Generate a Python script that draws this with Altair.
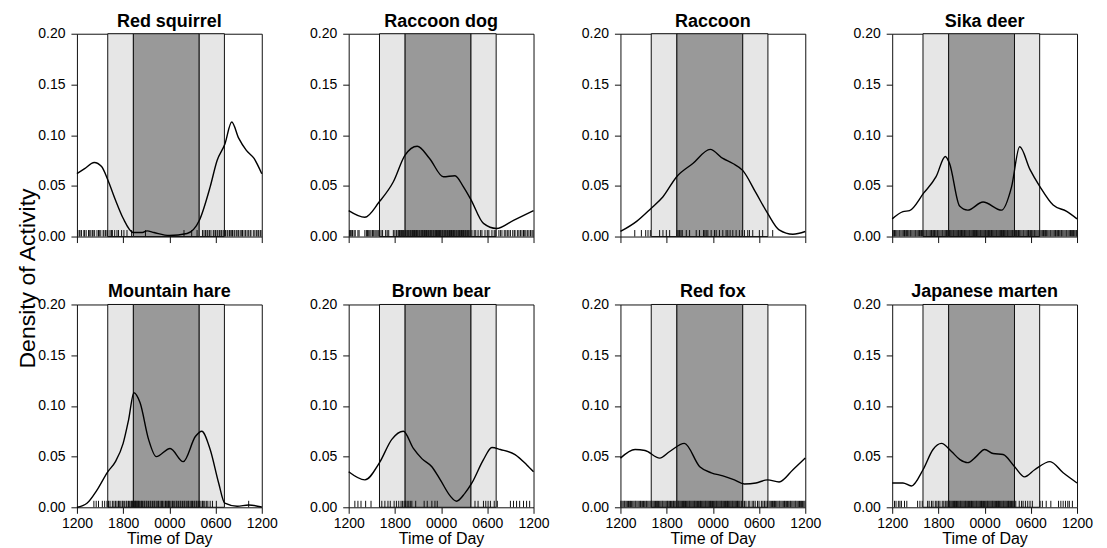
import json
import altair as alt
import pandas as pd

FONT = "Liberation Sans"

# ---------------- data (hours since 12:00 noon) ----------------
species = ["Red squirrel", "Raccoon dog", "Raccoon", "Sika deer",
           "Mountain hare", "Brown bear", "Red fox", "Japanese marten"]

tick_hours = [0, 6, 12, 18, 24]
tick_labels = ["1200", "1800", "0000", "0600", "1200"]
y_ticks = [0.0, 0.05, 0.10, 0.15, 0.20]

# twilight / night bands
shade_start = [4.0, 7.33, 15.88]
shade_end = [7.33, 15.88, 19.15]
shade_fill = ["#e6e6e6", "#999999", "#e6e6e6"]

red_squirrel_h = [0, 1, 2.25, 3.2, 4, 5, 6, 7.3, 8.5, 9.1, 10, 12, 14.3, 15.9, 17.3, 18.2, 19.2, 20.1, 21, 22, 23, 24]
red_squirrel_d = [0.062, 0.067, 0.073, 0.069, 0.056, 0.036, 0.018, 0.004, 0.004, 0.0056, 0.004, 0.001, 0.003, 0.016, 0.049, 0.075, 0.091, 0.113, 0.097, 0.085, 0.077, 0.062]

raccoon_dog_h = [0, 2.1, 3.95, 5.8, 7.3, 8.9, 10.5, 12.3, 13.8, 14.9, 15.9, 17.5, 19.2, 21.4, 24]
raccoon_dog_d = [0.0256, 0.019, 0.034, 0.054, 0.080, 0.089, 0.077, 0.059, 0.060, 0.049, 0.036, 0.013, 0.008, 0.016, 0.0256]

raccoon_h = [0, 2.1, 4, 5.5, 7.3, 9.4, 11.65, 13.3, 14.6, 15.9, 17.6, 19.1, 20.6, 22.4, 24]
raccoon_d = [0.005, 0.015, 0.028, 0.039, 0.059, 0.072, 0.086, 0.077, 0.072, 0.065, 0.043, 0.023, 0.0066, 0.0023, 0.005]

sika_deer_h = [0, 1.4, 2.25, 4.1, 5.7, 6.9, 7.45, 8.75, 9.8, 11.8, 14.2, 15.5, 16.55, 17.9, 19.2, 20.9, 22.6, 24]
sika_deer_d = [0.0174, 0.0246, 0.0256, 0.043, 0.059, 0.079, 0.072, 0.030, 0.026, 0.034, 0.026, 0.049, 0.0885, 0.066, 0.049, 0.031, 0.025, 0.0174]

mountain_hare_h = [0, 1.3, 2.6, 4, 5, 6, 6.7, 7.4, 8.2, 9.3, 10.3, 12.1, 13.8, 15.4, 16.2, 17.3, 18.4, 19.2, 20.8, 22.3, 24]
mountain_hare_d = [0.0, 0.004, 0.017, 0.035, 0.045, 0.063, 0.086, 0.113, 0.103, 0.067, 0.050, 0.058, 0.045, 0.070, 0.075, 0.057, 0.024, 0.004, 0.001, 0.0023, 0.0003]

brown_bear_h = [0, 2.1, 4, 5.6, 7.1, 8.4, 9.5, 10.8, 11.9, 13.2, 14, 15.1, 16, 17.5, 18.6, 19.7, 21.6, 23.1, 24]
brown_bear_d = [0.035, 0.027, 0.044, 0.067, 0.075, 0.058, 0.048, 0.040, 0.027, 0.011, 0.006, 0.014, 0.024, 0.047, 0.059, 0.057, 0.052, 0.042, 0.035]

red_fox_h = [0, 1.9, 3.2, 5.1, 6.4, 8.3, 10.3, 11.8, 13.3, 14.8, 16.1, 17.6, 19.1, 20.6, 22.4, 24]
red_fox_d = [0.0485, 0.057, 0.056, 0.0485, 0.055, 0.063, 0.040, 0.034, 0.031, 0.027, 0.023, 0.024, 0.027, 0.025, 0.037, 0.0485]

japanese_marten_h = [0, 1.4, 2.5, 4, 5.3, 6.4, 7.7, 8.8, 9.8, 10.9, 12, 13.1, 14.4, 15.9, 17.2, 18.5, 20.5, 22.2, 24]
japanese_marten_d = [0.024, 0.024, 0.021, 0.037, 0.057, 0.063, 0.055, 0.047, 0.044, 0.050, 0.057, 0.053, 0.052, 0.040, 0.030, 0.037, 0.045, 0.034, 0.024]

red_squirrel_rug = [0.1, 0.3, 0.4, 0.6, 0.9, 1.0, 1.2, 1.5, 1.6, 1.8, 2.0, 2.1, 2.3, 2.6, 2.8, 2.9, 3.1, 3.4, 3.5, 3.7,
                    3.9, 4.0, 4.3, 4.5, 4.6, 4.9, 5.2, 5.4, 5.8, 6.1, 6.5, 7.1, 8.9, 13.9, 14.9, 15.6, 16.3, 16.5, 16.7,
                    16.9, 17.0, 17.2, 17.4, 17.7, 17.8, 18.0, 18.2, 18.3, 18.5, 18.7, 18.8, 19.0, 19.2, 19.3, 19.5, 19.6,
                    19.8, 19.9, 20.1, 20.2, 20.4, 20.5, 20.7, 20.9, 21.0, 21.2, 21.4, 21.5, 21.7, 21.9, 22.1, 22.3, 22.5,
                    22.6, 22.9, 23.1, 23.3, 23.5, 23.6, 23.8, 23.9]
raccoon_dog_rug = [0.1, 0.25, 0.4, 0.5, 0.7, 0.85, 1.2, 1.35, 2.1, 2.3, 2.45, 2.6, 2.75, 2.9, 3.1, 3.2, 3.4, 3.55, 3.7,
                   3.9, 4.0, 4.2, 4.4, 4.8, 5.0, 5.2, 5.8, 6.0, 6.2, 6.4, 6.5, 6.6, 6.75, 6.85, 7.0, 7.1, 7.2, 7.35,
                   7.45, 7.6, 7.7, 7.8, 7.95, 8.05, 8.2, 8.3, 8.4, 8.55, 8.65, 8.8, 8.9, 9.0, 9.15, 9.25, 9.4, 9.5,
                   9.6, 9.75, 9.85, 10.0, 10.1, 10.2, 10.35, 10.45, 10.6, 10.7, 10.8, 10.95, 11.05, 11.2, 11.3, 11.4,
                   11.55, 11.65, 11.8, 11.9, 12.0, 12.15, 12.25, 12.4, 12.5, 12.6, 12.75, 12.85, 13.0, 13.1, 13.2,
                   13.35, 13.45, 13.6, 13.7, 13.8, 13.95, 14.05, 14.2, 14.3, 14.4, 14.55, 14.65, 14.8, 14.9, 15.0,
                   15.15, 15.25, 15.4, 15.5, 15.6, 15.75, 16.0, 16.3, 16.5, 16.8, 17.1, 17.3, 17.7, 18.0, 18.2, 18.6,
                   18.9, 19.1, 19.5, 19.7, 19.9, 20.2, 20.4, 20.6, 20.8, 21.0, 21.3, 21.5, 21.6, 21.9, 22.1, 22.3,
                   22.5, 22.7, 22.8, 23.0, 23.2, 23.4, 23.6, 23.8, 23.95]
raccoon_rug = [1.86, 2.72, 3.28, 3.58, 3.88, 5.09, 5.52, 5.96, 6.39, 7.34, 7.5, 7.68, 7.86, 8.03, 8.55, 8.98, 9.84,
               10.27, 10.79, 10.96, 11.14, 11.35, 11.78, 12.21, 12.43, 12.86, 13.29, 13.72, 13.94, 14.24, 14.59,
               15.02, 15.45, 15.8, 16.1, 16.53, 16.75, 17.18, 18.04, 18.47, 19.77]
sika_deer_rug = [0.05, 0.2, 0.3, 0.45, 0.6, 0.75, 0.9, 1.0, 1.15, 1.3, 1.45, 1.6, 1.7, 1.85, 2.0, 2.15, 2.3, 2.4, 2.55,
                 2.7, 2.85, 3.0, 3.1, 3.25, 3.4, 3.55, 3.7, 3.8, 3.95, 4.1, 4.25, 4.4, 4.5, 4.65, 4.8, 4.95, 5.1, 5.2,
                 5.35, 5.5, 5.65, 5.8, 5.9, 6.05, 6.2, 6.35, 6.5, 6.6, 6.75, 6.9, 7.05, 7.2, 7.3, 7.45, 7.6, 7.75,
                 7.9, 8.0, 8.15, 8.3, 8.45, 8.6, 8.7, 8.85, 9.0, 9.15, 9.3, 9.4, 9.55, 9.7, 9.85, 10.0, 10.1, 10.25,
                 10.4, 10.55, 10.7, 10.8, 10.95, 11.1, 11.25, 11.4, 11.5, 11.65, 11.8, 11.95, 12.1, 12.2, 12.35,
                 12.5, 12.65, 12.8, 12.9, 13.05, 13.2, 13.35, 13.5, 13.6, 13.75, 13.9, 14.05, 14.2, 14.3, 14.45,
                 14.6, 14.75, 14.9, 15.0, 15.15, 15.3, 15.45, 15.6, 15.7, 15.85, 16.0, 16.15, 16.3, 16.4, 16.55,
                 16.7, 16.85, 17.0, 17.1, 17.25, 17.4, 17.55, 17.7, 17.8, 17.95, 18.1, 18.25, 18.4, 18.5, 18.65,
                 18.8, 18.95, 19.1, 19.2, 19.35, 19.5, 19.65, 19.8, 19.9, 20.05, 20.2, 20.35, 20.5, 20.6, 20.75,
                 20.9, 21.05, 21.2, 21.3, 21.45, 21.6, 21.75, 21.9, 22.0, 22.15, 22.3, 22.45, 22.6, 22.7, 22.85,
                 23.0, 23.15, 23.3, 23.4, 23.55, 23.7, 23.85, 23.95]
mountain_hare_rug = [2.2, 2.5, 2.8, 3.3, 3.6, 3.9, 4.1, 4.3, 4.6, 4.8, 5.0, 5.2, 5.4, 5.5, 5.7, 5.9, 6.0, 6.2, 6.4, 6.5,
                     6.7, 6.8, 7.0, 7.1, 7.2, 7.3, 7.4, 7.5, 7.6, 7.7, 7.8, 7.9, 8.0, 8.1, 8.3, 8.4, 8.5, 8.7, 8.8,
                     9.0, 9.1, 9.3, 9.5, 9.6, 9.8, 10.0, 10.1, 10.3, 10.5, 10.6, 10.8, 11.0, 11.1, 11.3, 11.5, 11.6,
                     11.8, 11.9, 12.0, 12.2, 12.4, 12.5, 12.7, 12.9, 13.0, 13.2, 13.4, 13.5, 13.7, 13.9, 14.0, 14.2,
                     14.4, 14.5, 14.7, 14.9, 15.0, 15.2, 15.3, 15.5, 15.6, 15.8, 15.9, 16.1, 16.3, 16.4, 16.6, 16.8,
                     17.0, 17.3, 17.6, 18.1, 22.3]
brown_bear_rug = [0.8, 1.2, 1.6, 2.2, 2.9, 4.0, 4.3, 4.7, 5.1, 5.4, 5.9, 6.2, 6.5, 6.8, 7.0, 7.2, 7.4, 7.6, 7.8, 8.0,
                  8.2, 8.7, 9.8, 10.2, 10.8, 11.2, 11.5, 16.4, 16.8, 17.5, 17.8, 18.1, 18.4, 18.9, 19.3, 21.0, 21.4,
                  21.8, 22.2, 22.7, 23.1, 23.5]
red_fox_rug = [0.05, 0.2, 0.35, 0.5, 0.6, 0.75, 0.9, 1.05, 1.2, 1.3, 1.45, 1.6, 1.75, 1.9, 2.0, 2.15, 2.3, 2.45, 2.6,
               2.7, 2.85, 3.0, 3.15, 3.3, 3.4, 3.55, 3.7, 3.85, 4.0, 4.1, 4.25, 4.4, 4.55, 4.7, 4.8, 4.95, 5.1, 5.25,
               5.4, 5.5, 5.65, 5.8, 5.95, 6.1, 6.2, 6.35, 6.5, 6.65, 6.8, 6.9, 7.05, 7.2, 7.35, 7.5, 7.6, 7.75, 7.9,
               8.05, 8.2, 8.3, 8.45, 8.6, 8.75, 8.9, 9.0, 9.15, 9.3, 9.45, 9.6, 9.7, 9.85, 10.0, 10.15, 10.3, 10.4,
               10.55, 10.7, 10.85, 11.0, 11.1, 11.25, 11.4, 11.55, 11.7, 11.8, 11.95, 12.1, 12.25, 12.4, 12.5, 12.65,
               12.8, 12.95, 13.1, 13.2, 13.35, 13.5, 13.65, 13.8, 13.9, 14.05, 14.2, 14.35, 14.5, 14.6, 14.75, 14.9,
               15.05, 15.2, 15.3, 15.5, 15.7, 15.9, 16.1, 16.3, 16.6, 16.8, 17.1, 17.3, 17.5, 17.8, 18.0, 18.3, 18.5,
               18.7, 18.9, 19.1, 19.3, 19.45, 19.6, 19.75, 19.9, 20.0, 20.15, 20.3, 20.45, 20.6, 20.7, 20.85, 21.0,
               21.15, 21.3, 21.4, 21.55, 21.7, 21.85, 22.0, 22.1, 22.25, 22.4, 22.55, 22.7, 22.8, 22.95, 23.1, 23.25,
               23.4, 23.5, 23.65, 23.8, 23.95]
japanese_marten_rug = [0.3, 0.5, 0.8, 1.0, 1.2, 1.6, 1.9, 3.3, 3.6, 3.9, 4.6, 4.8, 5.1, 5.3, 5.6, 5.8, 6.0, 6.2, 6.5,
                       6.7, 6.9, 7.1, 7.25, 7.4, 7.5, 7.65, 7.8, 7.95, 8.1, 8.2, 8.35, 8.5, 8.65, 8.8, 8.9, 9.05, 9.2,
                       9.35, 9.5, 9.6, 9.75, 9.9, 10.05, 10.2, 10.3, 10.45, 10.6, 10.75, 10.9, 11.0, 11.15, 11.3,
                       11.45, 11.6, 11.7, 11.85, 12.0, 12.15, 12.3, 12.4, 12.55, 12.7, 12.85, 13.0, 13.1, 13.25, 13.4,
                       13.55, 13.7, 13.8, 13.95, 14.1, 14.25, 14.4, 14.5, 14.65, 14.8, 14.95, 15.1, 15.2, 15.35, 15.5,
                       15.65, 15.8, 15.9, 16.05, 16.5, 16.8, 17.0, 17.3, 17.6, 17.9, 18.2, 19.2, 19.5, 20.0, 20.6,
                       21.6, 21.9, 22.2, 22.5, 22.8, 23.0, 23.4]

curves_h = [red_squirrel_h, raccoon_dog_h, raccoon_h, sika_deer_h,
            mountain_hare_h, brown_bear_h, red_fox_h, japanese_marten_h]
curves_d = [red_squirrel_d, raccoon_dog_d, raccoon_d, sika_deer_d,
            mountain_hare_d, brown_bear_d, red_fox_d, japanese_marten_d]
rugs = [red_squirrel_rug, raccoon_dog_rug, raccoon_rug, sika_deer_rug,
        mountain_hare_rug, brown_bear_rug, red_fox_rug, japanese_marten_rug]

y_title = "Density of Activity"
x_title = "Time of Day"

# ---------------- chart ----------------
W, H = 185, 203
label_expr = f"{json.dumps(tick_labels)}[indexof({json.dumps(tick_hours)}, datum.value)]"
xs = alt.Scale(domain=[0, 24], nice=False, zero=False)
ys = alt.Scale(domain=[0, 0.2], nice=False, zero=True)
shade_df = pd.DataFrame({"start": shade_start, "end": shade_end, "fill": shade_fill})


def panel(i, bottom, first):
    if bottom:
        xaxis = alt.Axis(values=tick_hours, labelExpr=label_expr, title=x_title, grid=False,
                         labelOverlap=False, labelFlush=False)
    else:
        xaxis = alt.Axis(values=tick_hours, labels=False, title=None, grid=False)
    yaxis = alt.Axis(values=y_ticks, format=".2f", title=None, grid=False, labelOverlap=False)

    shade = alt.Chart(shade_df).mark_rect(stroke="#111111", strokeWidth=1).encode(
        x=alt.X("start:Q", scale=xs, axis=xaxis),
        x2="end:Q",
        y=alt.value(0),
        y2=alt.value(H),
        fill=alt.Fill("fill:N", scale=None),
    )
    rug = alt.Chart(pd.DataFrame({"start": rugs[i]})).mark_rule(
        color="#111111", strokeWidth=1
    ).encode(
        x=alt.X("start:Q", scale=xs, axis=xaxis),
        y=alt.value(H),
        y2=alt.value(H - 6.5),
    )
    line = alt.Chart(pd.DataFrame({"start": curves_h[i], "d": curves_d[i]})).mark_line(
        color="black", strokeWidth=1.4, interpolate="monotone"
    ).encode(
        x=alt.X("start:Q", scale=xs, axis=xaxis),
        y=alt.Y("d:Q", scale=ys, axis=yaxis),
    )
    layers = [shade, rug, line]
    if first:
        txt = alt.Chart(pd.DataFrame({"t": [y_title]})).mark_text(
            angle=270, fontSize=23, font=FONT, align="center", baseline="middle", color="black"
        ).encode(x=alt.value(-49), y=alt.value(245), text="t:N")
        layers.append(txt)
    return alt.layer(*layers).properties(
        width=W, height=H,
        title=alt.TitleParams(species[i], fontSize=18, fontWeight="bold", font=FONT,
                              anchor="middle", offset=-4, color="black"),
    )


panels = [panel(i, i >= 4, i == 0) for i in range(8)]

chart = alt.concat(*panels, columns=4, spacing={"row": 68, "column": 87}, bounds="flush").properties(
    padding={"left": 8, "top": 3.5, "right": 5, "bottom": 3},
    background="white",
).configure_view(
    stroke="#111111", strokeWidth=1
).configure_axis(
    domain=False, tickColor="#111111", tickSize=6, tickWidth=1,
    labelFont=FONT, labelFontSize=14, labelColor="black", labelPadding=6,
    titleFont=FONT, titleFontSize=16, titleFontWeight="normal", titleColor="black", titlePadding=0,
).configure_axisX(
    labelPadding=3,
)

chart.save("out.html", embed_options={"renderer": "svg", "actions": False})
